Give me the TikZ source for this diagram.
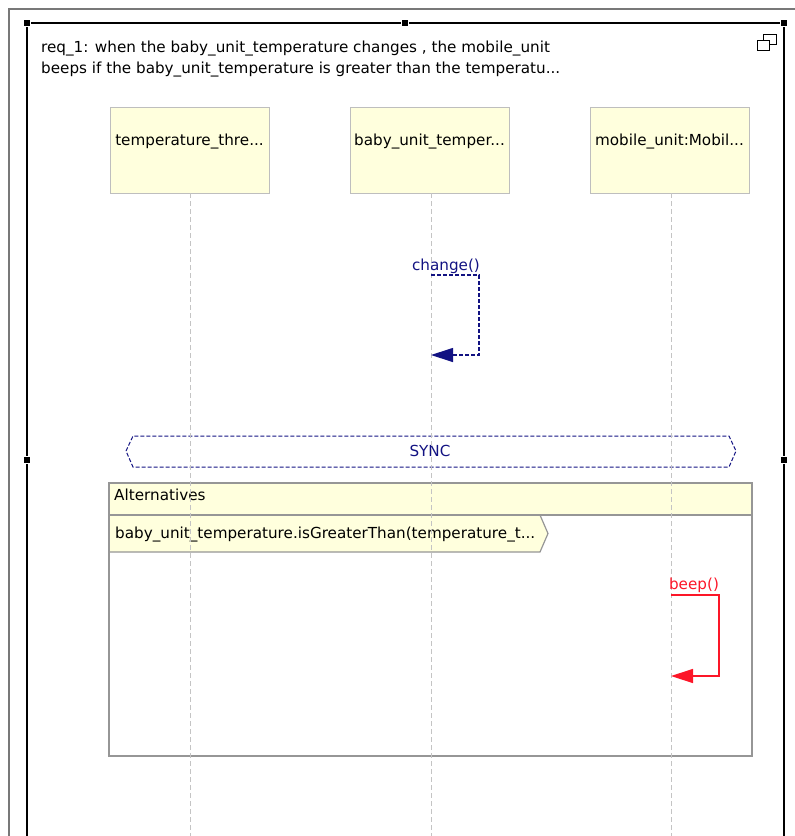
\documentclass[tikz,border=0pt]{standalone}
\usepackage{fontspec}
\setmainfont{DejaVu Sans}
\usetikzlibrary{arrows.meta}

\definecolor{headfill}{RGB}{255,255,221}
\definecolor{headdraw}{RGB}{190,190,190}
\definecolor{msgblue}{RGB}{18,18,130}
\definecolor{msgred}{RGB}{252,22,40}
\definecolor{lifegray}{RGB}{196,196,196}
\definecolor{framegray}{RGB}{150,150,150}
\definecolor{outergray}{RGB}{120,120,120}

\tikzset{
  headbox/.style={draw=headdraw, fill=headfill, line width=1pt,
    minimum width=159pt, minimum height=86pt, inner sep=0pt},
  headtext/.style={font=\fontsize{15.2}{18}\selectfont, inner sep=0pt},
  lifeline/.style={draw=lifegray, line width=1pt, dash pattern=on 5pt off 3pt},
  handle/.style={fill=black, draw=white, line width=0.8pt, minimum size=7pt, inner sep=0pt},
  plaintext/.style={font=\fontsize{15.2}{18}\selectfont, inner sep=0pt, anchor=west},
  asyncmsg/.style={draw=msgblue, line width=1.2pt, dash pattern=on 4pt off 2pt,
    -{Triangle[length=22pt,width=14pt,fill=msgblue]}},
  syncmsg/.style={draw=msgred, line width=1.4pt,
    -{Triangle[length=22pt,width=14pt,fill=msgred]}},
  msglabel/.style={font=\fontsize{15.2}{18}\selectfont, inner sep=0pt},
}

\begin{document}
\begin{tikzpicture}[x=1pt,y=-1pt]
\useasboundingbox (0,0) rectangle (795,836);

% outer window edge
\draw[outergray, line width=1.2pt] (9,836) -- (9,9) -- (795,9);

% selected diagram frame with its resize handles
\draw[black, line width=1.8pt] (27,836) -- (27,23) -- (784,23) -- (784,836);
\node[handle] (hTL) at (27,23) {};
\node[handle] (hTM) at (405,23) {};
\node[handle] (hTR) at (784,23) {};
\node[handle] (hML) at (27,460) {};
\node[handle] (hMR) at (784,460) {};

% restore icon
\draw[black, line width=0.9pt, fill=white] (763,34) rectangle (776,44);
\draw[black, line width=0.9pt, fill=white] (757,40) rectangle (769,50);

% requirement caption
\node[plaintext, anchor=base west] (req1) at (41,52.5) {req\_1: when the baby\_unit\_temperature changes , the mobile\_unit};
\node[plaintext, anchor=base west] (req2) at (41,73.5) {beeps if the baby\_unit\_temperature is greater than the temperatu...};

% lifeline heads
\node[headbox] (tt) at (189.5,150) {};
\node[headtext] (tt-name) at ([yshift=8pt]tt.center) {temperature\_thre...};
\node[headbox] (bt) at (429.5,150) {};
\node[headtext] (bt-name) at ([yshift=8pt]bt.center) {baby\_unit\_temper...};
\node[headbox] (mu) at (669.5,150) {};
\node[headtext] (mu-name) at ([yshift=8pt]mu.center) {mobile\_unit:Mobil...};

% SYNC marker
\draw[msgblue, line width=1pt, dash pattern=on 4pt off 2pt]
  (126,451) -- (133,436) -- (729,436) -- (736,451) -- (729,467) -- (133,467) -- cycle;
\node[msglabel, text=msgblue] (sync) at (430,451) {SYNC};

% alternatives combined fragment
\fill[headfill] (109,483) rectangle (752,515);
\draw[framegray, line width=1.2pt, fill=headfill]
  (109,515) -- (540,515) -- (548,533.5) -- (540,552) -- (109,552) -- cycle;
\draw[framegray, line width=1.2pt] (109,483) rectangle (752,756);
\draw[framegray, line width=1.2pt] (109,515) -- (752,515);
\node[plaintext, anchor=base west] (alt) at (114,500.5) {Alternatives};
\node[plaintext, anchor=base west] (guard) at (115,538.5) {baby\_unit\_temperature.isGreaterThan(temperature\_t...};

% lifelines
\coordinate (tt-end) at (190,836);
\coordinate (bt-end) at (431,836);
\coordinate (mu-end) at (671,836);
\draw[lifeline] (190,193) -- (tt-end);
\draw[lifeline] (431,193) -- (bt-end);
\draw[lifeline] (671,193) -- (mu-end);

% change() self message
\coordinate (chg-out) at (431,275);
\coordinate (chg-in) at (431,355);
\coordinate (chg-turn) at (479,355);
\draw[asyncmsg] (chg-out) -| (chg-turn) -- (chg-in);
\node[msglabel, text=msgblue] (chg-label) at (446,266) {change()};

% beep() self message
\coordinate (beep-out) at (671,595);
\coordinate (beep-in) at (671,676);
\coordinate (beep-turn) at (719,676);
\draw[syncmsg] (beep-out) -| (beep-turn) -- (beep-in);
\node[msglabel, text=msgred] (beep-label) at (694,585) {beep()};

\end{tikzpicture}
\end{document}
